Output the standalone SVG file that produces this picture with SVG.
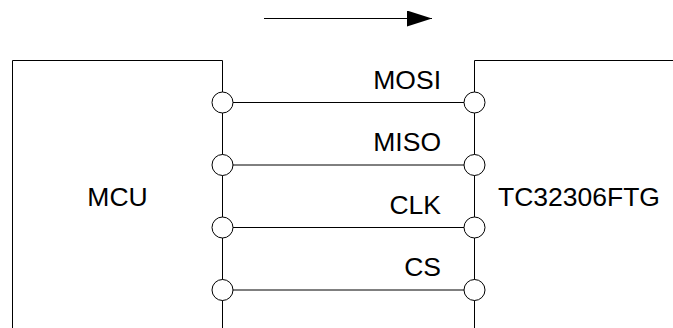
<svg xmlns="http://www.w3.org/2000/svg" width="673" height="328" viewBox="0 0 673 328">
<style>
.box{fill:none;stroke:#000;stroke-width:1}
.pin{fill:#fff;stroke:#000;stroke-width:1}
.wire{stroke:#000;stroke-width:1;fill:none}
.lbl{font-family:"Liberation Sans",Arial,sans-serif;font-size:26.5px;fill:#000}
</style>
<defs>
<marker id="ah" markerWidth="25" markerHeight="16" refX="25" refY="8" orient="auto" markerUnits="userSpaceOnUse">
<path d="M0,0 L25,8 L0,16 Z" fill="#000"/>
</marker>
</defs>
<rect width="673" height="328" fill="#fff"/>
<g id="connectors">
<line class="wire" x1="264" y1="18.5" x2="432" y2="18.5" marker-end="url(#ah)"/>
<line class="wire" x1="232" y1="102.5" x2="464" y2="102.5"/>
<line class="wire" x1="232" y1="165" x2="464" y2="165"/>
<line class="wire" x1="232" y1="227.5" x2="464" y2="227.5"/>
<line class="wire" x1="232" y1="290" x2="464" y2="290"/>
</g>
<g id="mcu">
<path class="box" d="M12.5,328 V60.5 H222.5 V328"/>
<text class="lbl" x="117.5" y="206" text-anchor="middle">MCU</text>
<circle class="pin" cx="222.5" cy="102.5" r="10.5"/>
<circle class="pin" cx="222.5" cy="165" r="10.5"/>
<circle class="pin" cx="222.5" cy="227.5" r="10.5"/>
<circle class="pin" cx="222.5" cy="290" r="10.5"/>
</g>
<g id="tc32306ftg">
<path class="box" d="M474.5,328 V60.5 H673"/>
<text class="lbl" x="579" y="206" text-anchor="middle">TC32306FTG</text>
<circle class="pin" cx="474.5" cy="102.5" r="10.5"/>
<circle class="pin" cx="474.5" cy="165" r="10.5"/>
<circle class="pin" cx="474.5" cy="227.5" r="10.5"/>
<circle class="pin" cx="474.5" cy="290" r="10.5"/>
</g>
<g id="labels">
<text class="lbl" x="441" y="88.5" text-anchor="end">MOSI</text>
<text class="lbl" x="441" y="151" text-anchor="end">MISO</text>
<text class="lbl" x="441" y="213.5" text-anchor="end">CLK</text>
<text class="lbl" x="441" y="276" text-anchor="end">CS</text>
</g>
</svg>
